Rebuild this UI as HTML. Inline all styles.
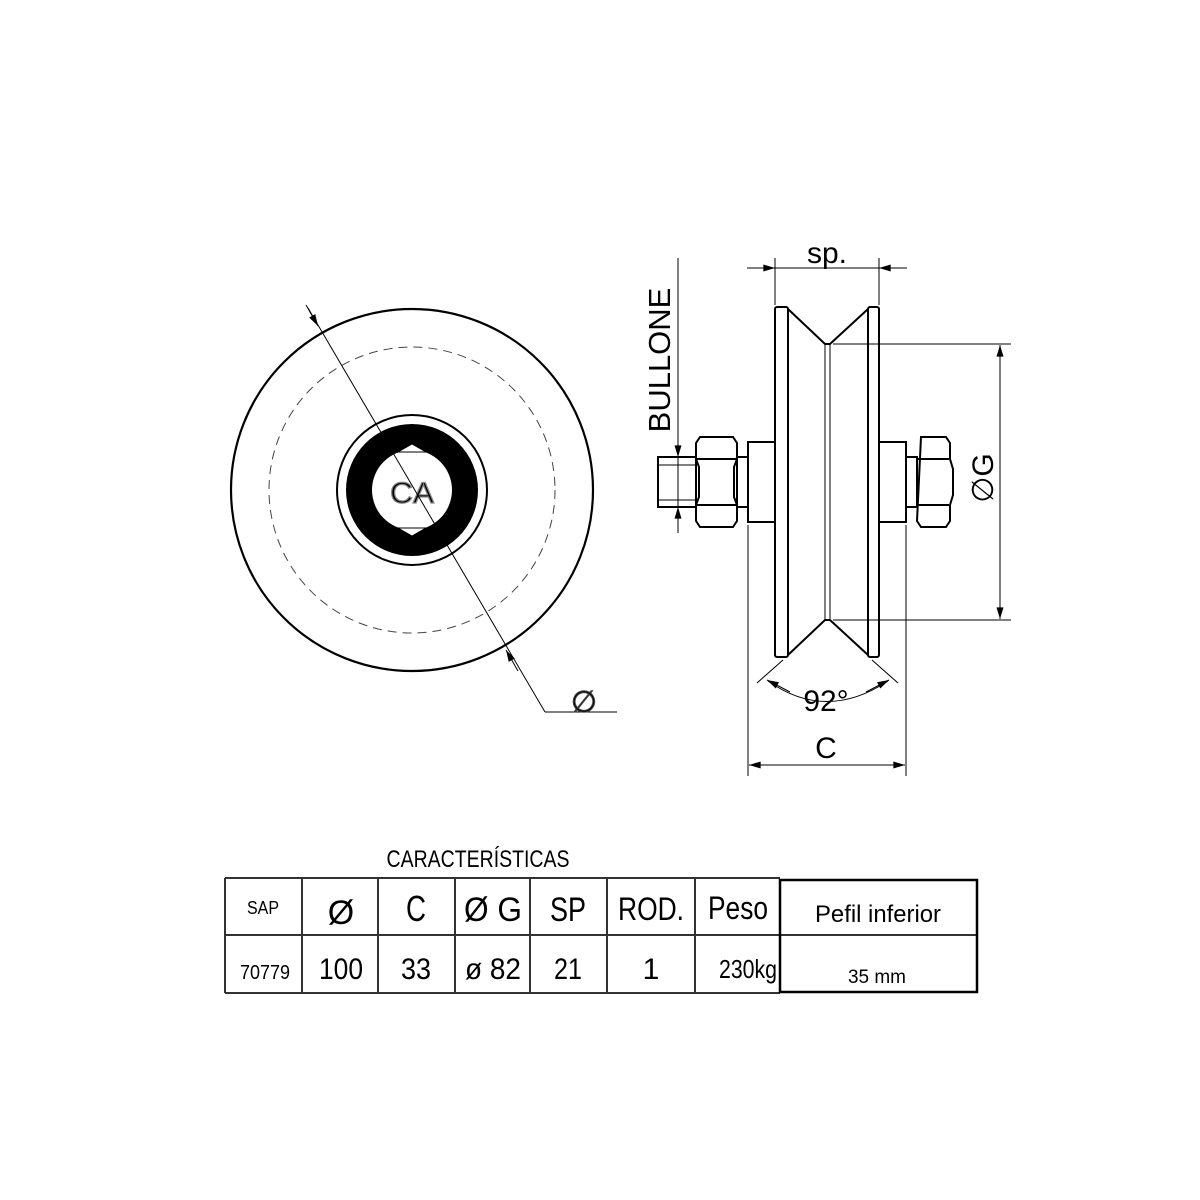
<!DOCTYPE html>
<html><head><meta charset="utf-8"><style>
html,body{margin:0;padding:0;background:#fff}
svg{display:block}
text{font-family:"Liberation Sans",sans-serif;fill:#000}
</style></head><body>
<svg width="1200" height="1200" viewBox="0 0 1200 1200" xmlns="http://www.w3.org/2000/svg">
<defs>
<marker id="a" viewBox="0 0 10 6" refX="10" refY="3" markerWidth="12" markerHeight="7" markerUnits="userSpaceOnUse" orient="auto"><path d="M0,0L10,3L0,6z" fill="#000"/></marker>
<clipPath id="cc"><circle cx="412" cy="490" r="41"/></clipPath>
</defs>
<!-- left view -->
<circle cx="412" cy="490" r="181" fill="none" stroke="#000" stroke-width="2.2"/>
<circle cx="412" cy="490" r="143" fill="none" stroke="#444" stroke-width="1" stroke-dasharray="9,6"/>
<circle cx="412" cy="490" r="75" fill="none" stroke="#000" stroke-width="2"/>
<circle cx="412" cy="490" r="66" fill="#000"/>
<circle cx="412" cy="490" r="40" fill="#fff"/>
<polygon points="412,444 398,452 426,452" fill="#fff" stroke="#000" stroke-width="1"/>
<polygon points="412,536 398,528 426,528" fill="#fff" stroke="#000" stroke-width="1"/>
<text x="412" y="503" font-size="30" text-anchor="middle" fill="#fff" stroke="#888" stroke-width="1.2" textLength="44" lengthAdjust="spacingAndGlyphs">CA</text>
<line x1="308" y1="308" x2="545" y2="712" stroke="#000" stroke-width="1"/>
<line x1="545" y1="712" x2="617" y2="712" stroke="#000" stroke-width="1"/>
<line x1="306" y1="305" x2="318" y2="326" stroke="#000" marker-end="url(#a)"/>
<line x1="518" y1="671" x2="506" y2="650" stroke="#000" marker-end="url(#a)"/>
<text x="584" y="712" font-size="30" text-anchor="middle" fill="none" stroke="#444" stroke-width="1">∅</text>
<!-- right view -->
<g stroke="#000" stroke-width="2" fill="#fff">
<rect x="775" y="307" width="13" height="350" rx="2"/>
<rect x="868" y="307" width="11" height="350" rx="2"/>
<polyline points="788,309 825,344 830,344 868,309" fill="none"/>
<polyline points="788,655 825,620 830,620 868,655" fill="none"/>
<rect x="748" y="442" width="27" height="80"/>
<rect x="879" y="442" width="27" height="80"/>
<rect x="737" y="457" width="11" height="50"/>
<rect x="906" y="457" width="11" height="50"/>
<rect x="658" y="457" width="38" height="50"/>
<path d="M700,437h33l4,6v16l-3,8v30l3,8v16l-4,6h-33l-4,-6v-16l3,-8v-30l-3,-8v-16z"/>
<line x1="697" y1="459" x2="736" y2="459"/><line x1="697" y1="505" x2="736" y2="505"/>
<path d="M921,437h25l4,6v16l3,10v26l-3,10v16l-4,6h-25l-4,-6z"/>
<line x1="917" y1="459" x2="949" y2="459"/><line x1="917" y1="505" x2="949" y2="505"/>
</g>
<g stroke="#000" stroke-width="1" fill="none">
<line x1="658" y1="465" x2="696" y2="465"/><line x1="658" y1="500" x2="696" y2="500"/>
<line x1="825" y1="344" x2="825" y2="620"/><line x1="830" y1="344" x2="830" y2="620"/>
<line x1="833" y1="344" x2="1011" y2="344"/><line x1="833" y1="620" x2="1011" y2="620"/>
<line x1="1000" y1="380" x2="1000" y2="345" marker-end="url(#a)"/>
<line x1="1000" y1="380" x2="1000" y2="619" marker-end="url(#a)"/>
<line x1="775" y1="258" x2="775" y2="305"/><line x1="879" y1="258" x2="879" y2="305"/>
<line x1="747" y1="268" x2="775" y2="268" marker-end="url(#a)"/>
<line x1="907" y1="268" x2="879" y2="268" marker-end="url(#a)"/>
<line x1="775" y1="268" x2="879" y2="268"/>
<line x1="678" y1="258" x2="678" y2="533"/>
<line x1="678" y1="430" x2="678" y2="457" marker-end="url(#a)"/>
<line x1="678" y1="533" x2="678" y2="507" marker-end="url(#a)"/>
<line x1="748" y1="525" x2="748" y2="776"/><line x1="906" y1="525" x2="906" y2="776"/>
<line x1="790" y1="765" x2="749" y2="765" marker-end="url(#a)"/>
<line x1="860" y1="765" x2="905" y2="765" marker-end="url(#a)"/>
<line x1="749" y1="765" x2="905" y2="765"/>
<line x1="783" y1="660" x2="757" y2="683"/><line x1="872" y1="660" x2="898" y2="683"/>
<path d="M768,681 Q826,722 888,681"/>
<line x1="790" y1="692" x2="767" y2="680" marker-end="url(#a)"/>
<line x1="866" y1="692" x2="889" y2="680" marker-end="url(#a)"/>
</g>
<text x="827" y="263" font-size="30" text-anchor="middle">sp.</text>
<text transform="translate(670,360) rotate(-90)" font-size="31" text-anchor="middle">BULLONE</text>
<text transform="translate(993,478) rotate(-90)" font-size="30" text-anchor="middle">∅G</text>
<text x="826" y="711" font-size="30" text-anchor="middle">92°</text>
<text x="826" y="758" font-size="30" text-anchor="middle">C</text>
<!-- table -->
<text x="478" y="867" font-size="24" text-anchor="middle" fill="#333" textLength="183" lengthAdjust="spacingAndGlyphs">CARACTERÍSTICAS</text>
<g stroke="#333" stroke-width="2" fill="none">
<line x1="225" y1="878" x2="780" y2="878"/>
<line x1="225" y1="935" x2="977" y2="935"/>
<line x1="225" y1="993" x2="780" y2="993"/>
<line x1="225" y1="878" x2="225" y2="993"/>
<line x1="302" y1="878" x2="302" y2="993"/><line x1="378" y1="878" x2="378" y2="993"/>
<line x1="455" y1="878" x2="455" y2="993"/><line x1="530" y1="878" x2="530" y2="993"/>
<line x1="607" y1="878" x2="607" y2="993"/><line x1="695" y1="878" x2="695" y2="993"/>
</g>
<rect x="780" y="880" width="197" height="112" fill="none" stroke="#000" stroke-width="2.5"/>
<g text-anchor="middle" fill="#222">
<text x="263" y="914" font-size="18" textLength="32" lengthAdjust="spacingAndGlyphs">SAP</text>
<text x="341" y="924" font-size="34">Ø</text>
<text x="416" y="921" font-size="36" textLength="20" lengthAdjust="spacingAndGlyphs">C</text>
<text x="493" y="921" font-size="34" textLength="58" lengthAdjust="spacingAndGlyphs">Ø G</text>
<text x="568" y="921" font-size="34" textLength="36" lengthAdjust="spacingAndGlyphs">SP</text>
<text x="651" y="920" font-size="32" textLength="66" lengthAdjust="spacingAndGlyphs">ROD.</text>
<text x="738" y="919" font-size="32" textLength="60" lengthAdjust="spacingAndGlyphs">Peso</text>
<text x="878" y="922" font-size="24" textLength="126" lengthAdjust="spacingAndGlyphs">Pefil inferior</text>
<text x="265" y="979" font-size="20" textLength="50" lengthAdjust="spacingAndGlyphs">70779</text>
<text x="341" y="979" font-size="30" textLength="44" lengthAdjust="spacingAndGlyphs">100</text>
<text x="416" y="979" font-size="30" textLength="30" lengthAdjust="spacingAndGlyphs">33</text>
<text x="493" y="979" font-size="30" textLength="56" lengthAdjust="spacingAndGlyphs">ø 82</text>
<text x="568" y="979" font-size="30" textLength="28" lengthAdjust="spacingAndGlyphs">21</text>
<text x="651" y="979" font-size="30">1</text>
<text x="748" y="978" font-size="26" textLength="58" lengthAdjust="spacingAndGlyphs">230kg</text>
<text x="877" y="983" font-size="19" textLength="58" lengthAdjust="spacingAndGlyphs">35 mm</text>
</g>
</svg>
</body></html>
